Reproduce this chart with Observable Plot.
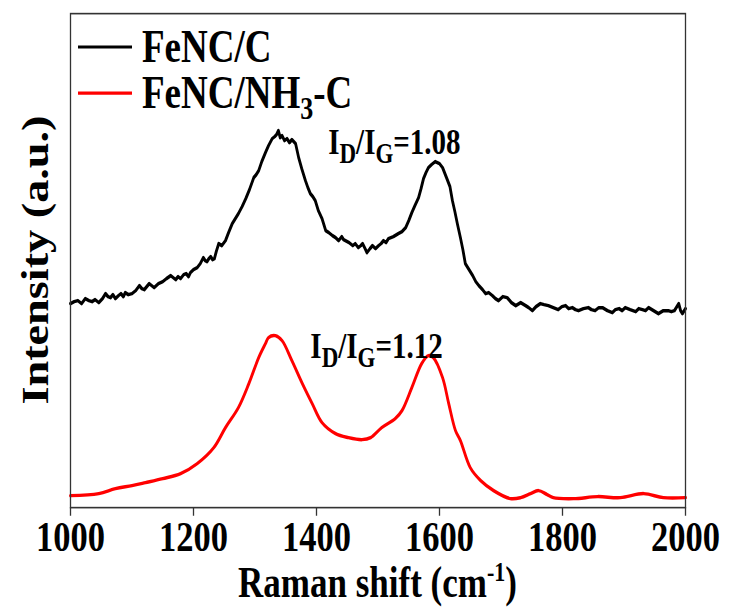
<!DOCTYPE html>
<html><head><meta charset="utf-8">
<script src="https://cdn.jsdelivr.net/npm/d3@7"></script>
<script src="https://cdn.jsdelivr.net/npm/@observablehq/plot@0.6"></script>
<style>
html,body{margin:0;padding:0;background:#fff;}
#chart svg{display:block;}
</style>
</head><body><div id="chart"></div>
<script>
// ---- data (arbitrary intensity units) ----
const blackShift = [1000,1006,1012,1018,1024,1030,1035,1040,1046,1052,1057,1061,1065,1069,1073,1078,1082,1086,1089,1094,1100,1106,1112,1116,1120,1124,1128,1132,1136,1143,1150,1156,1163,1167,1171,1175,1179,1184,1188,1192,1195,1200,1206,1211,1216,1219,1222,1225,1228,1231,1234,1237,1241,1246,1252,1257,1263,1268,1273,1279,1285,1291,1298,1302,1306,1311,1317,1322,1328,1332,1335,1338,1341,1344,1348,1352,1356,1360,1363,1366,1371,1376,1382,1386,1390,1394,1398,1403,1409,1415,1420,1426,1431,1436,1441,1444,1447,1453,1459,1463,1468,1472,1475,1479,1482,1487,1491,1496,1501,1505,1509,1513,1517,1525,1533,1539,1545,1550,1555,1560,1566,1570,1574,1578,1582,1587,1593,1600,1605,1612,1617,1621,1625,1629,1634,1638,1642,1648,1654,1659,1664,1670,1675,1680,1686,1691,1696,1703,1710,1717,1724,1732,1740,1745,1751,1757,1764,1770,1777,1785,1793,1799,1805,1810,1816,1821,1826,1834,1842,1847,1853,1859,1865,1873,1881,1886,1892,1897,1902,1910,1919,1924,1930,1935,1940,1948,1956,1964,1972,1977,1982,1986,1989,1992,1995,2000];
const blackIntensity = [204,206,207,204,209,207,206,208,205,209,214,211,210,213,209,212,214,211,215,213,214,217,222,219,218,221,224,222,220,224,226,229,232,230,228,231,229,233,234,231,235,238,240,244,250,247,246,249,251,248,249,256,264,262,267,275,284,289,294,301,309,318,330,333,337,346,355,362,369,371,373,377,370,372,367,369,365,368,366,364,350,339,327,320,314,311,307,297,289,277,275,272,270,267,271,268,267,265,262,264,260,262,264,259,255,259,262,259,262,264,267,265,269,271,274,276,280,287,295,302,310,319,329,335,340,343,346,344,340,329,321,307,296,284,270,258,244,238,232,226,222,218,214,215,212,209,207,211,210,205,202,205,202,200,197,201,204,203,202,200,198,201,202,199,200,198,197,199,200,198,197,200,200,197,195,198,199,197,200,198,196,199,198,197,200,197,194,197,197,196,197,201,204,197,194,199];

const redShift = [1000,1046,1073,1100,1122,1150,1179,1206,1233,1252,1273,1290,1306,1317,1322,1333,1344,1360,1377,1393,1409,1431,1452,1474,1488,1506,1528,1539,1555,1571,1582,1590,1605,1615,1626,1634,1650,1667,1688,1715,1732,1748,1761,1775,1785,1818,1857,1894,1932,1964,2000];
const redIntensity = [12,14,19,22,25,29,34,44,60,80,100,124,150,164,170,172,167,147,124,104,85,74,70,68,70,80,89,97,120,144,152,150,130,104,77,67,40,27,17,9,10,14,17,13,10,9,11,10,14,10,10];

const xTicks = [1000,1200,1400,1600,1800,2000];
const seriesNames = ["FeNC/C","FeNC/NH3-C"];
const seriesColors = ["#000000","#ff0000"];
const annotShift = [1419,1390];
const annotIntensity = [365,161];
const annotRatio = ["1.08","1.12"];

// ---- build ----
const S = 1.25;              // vertical stretch of the reference
const W = 729, H = 609 / S;
const FONT = "'Liberation Serif','Times New Roman',serif";

const blackData = blackShift.map((x,i)=>({shift:x, intensity:blackIntensity[i]}));
const redData = redShift.map((x,i)=>({shift:x, intensity:redIntensity[i]}));
const annotData = annotShift.map((x,i)=>({shift:x, intensity:annotIntensity[i], text:"ID/IG=" + annotRatio[i], ratio: annotRatio[i]}));

const plot = Plot.plot({
  width: W, height: H,
  marginLeft: 70, marginRight: 44, marginTop: 13 / S, marginBottom: H - 507 / S,
  style: {fontFamily: FONT, fontWeight: "bold", color: "#000", background: "#fff", overflow: "visible"},
  x: {domain: [1000, 2000]},
  y: {domain: [0, 494], axis: null},
  marks: [
    Plot.line(redData, {x: "shift", y: "intensity", stroke: seriesColors[1], strokeWidth: 2.8, curve: "catmull-rom"}),
    Plot.line(blackData, {x: "shift", y: "intensity", stroke: seriesColors[0], strokeWidth: 2.8, strokeLinejoin: "round"}),
    Plot.frame({stroke: "#333", strokeWidth: 1.3}),
    Plot.axisX({ticks: xTicks, tickSize: 7, tickPadding: 3, fontSize: 34.5, label: null, stroke: "#333", strokeWidth: 1.3, tickFormat: d => String(d)}),
    Plot.text(annotData, {x: "shift", y: "intensity", text: "text", textAnchor: "start", fontSize: 29, fontWeight: "bold", fill: "#000"})
  ]
});

const svg = plot;
svg.setAttribute("height", 609);
svg.setAttribute("preserveAspectRatio", "none");
svg.style.height = "609px";
svg.style.width = "729px";
svg.style.maxWidth = "none";

const sel = d3.select(svg);

// rich text for the annotations (subscripts D and G)
sel.selectAll("text").each(function() {
  const t = d3.select(this);
  const a = annotData.find(d => d.text === this.textContent);
  if (!a) return;
  t.text(null);
  t.append("tspan").text("I");
  t.append("tspan").attr("dy", 7).attr("font-size", 23).text("D");
  t.append("tspan").attr("dy", -7).text("/I");
  t.append("tspan").attr("dy", 7).attr("font-size", 23).text("G");
  t.append("tspan").attr("dy", -7).text("=" + a.ratio);
});

// legend inside the frame
const legendY = [37.6, 74.4];
seriesNames.forEach((name, i) => {
  sel.append("line").attr("x1", 78).attr("x2", 132).attr("y1", legendY[i]).attr("y2", legendY[i])
    .attr("stroke", seriesColors[i]).attr("stroke-width", 2.6);
  const t = sel.append("text").attr("x", 142).attr("y", legendY[i] + 12).attr("text-anchor", "start")
    .attr("font-family", FONT).attr("font-weight", "bold").attr("font-size", 37).attr("fill", "#000");
  if (name.includes("NH3")) {
    t.append("tspan").text("FeNC/NH");
    t.append("tspan").attr("dy", 9).attr("font-size", 26).text("3");
    t.append("tspan").attr("dy", -9).text("-C");
  } else {
    t.text(name);
  }
});

// axis titles
const xt = sel.append("text").attr("x", (70 + 685) / 2).attr("y", 478).attr("text-anchor", "middle")
  .attr("font-family", FONT).attr("font-weight", "bold").attr("font-size", 35).attr("fill", "#000");
xt.append("tspan").text("Raman shift (cm");
xt.append("tspan").attr("dy", -13).attr("font-size", 22).text("-1");
xt.append("tspan").attr("dy", 13).text(")");

sel.append("text").attr("transform", `translate(48,${(13 + 507) / 2 / S}) rotate(-90)`).attr("text-anchor", "middle")
  .attr("font-family", FONT).attr("font-weight", "bold").attr("font-size", 37).attr("fill", "#000")
  .text("Intensity (a.u.)");

document.getElementById("chart").appendChild(svg);
</script>
</body></html>
